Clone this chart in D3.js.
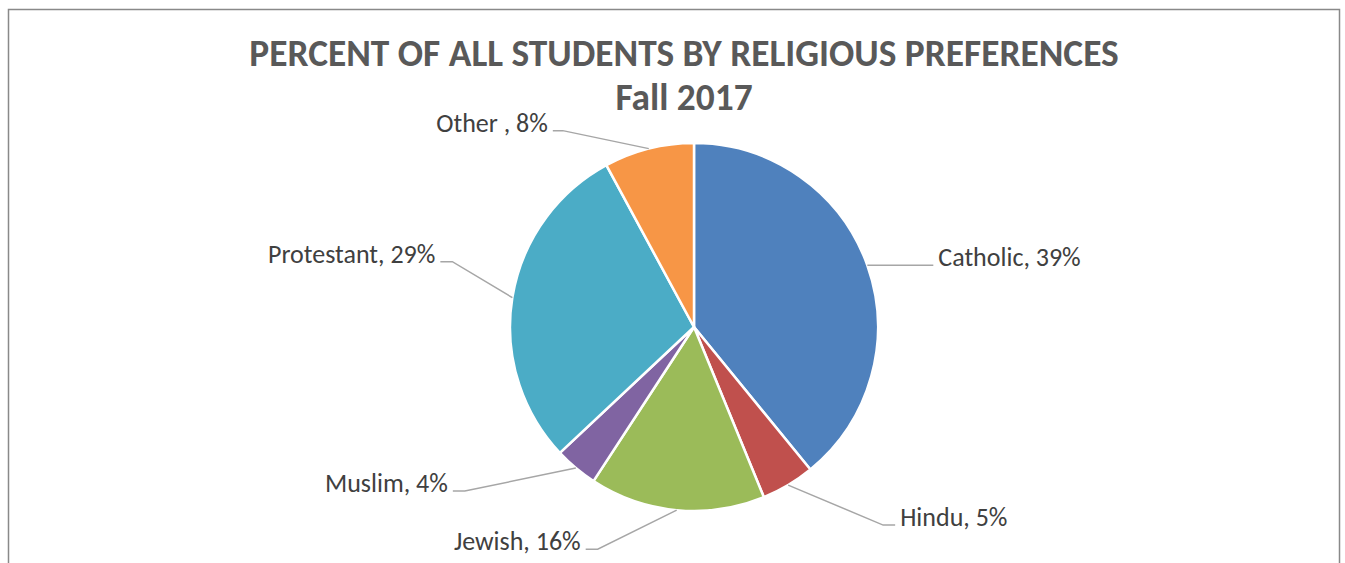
<!DOCTYPE html>
<html>
<head>
<meta charset="utf-8">
<script src="https://cdn.jsdelivr.net/npm/d3@7"></script>
<style>
  body { margin: 0; background: #fff; }
  text { font-family: Carlito, Lato, "Open Sans", sans-serif; }
</style>
</head>
<body>
<svg width="1345" height="563"></svg>
<script>
// data
const religions = ['Catholic', 'Hindu', 'Jewish', 'Muslim', 'Protestant', 'Other '];
const shares = [39.1, 4.7, 15.4, 3.8, 29.1, 7.9];
const shownPct = [39, 5, 16, 4, 29, 8];
const colors = ['#4F81BD', '#C0504D', '#9BBB59', '#8064A2', '#4BACC6', '#F79646'];

// leader line elbow offsets from the slice edge (layout only)
const elbowDx = [66, 95, -79, -111, -60, -86];
const elbowDy = [0, 40, 39, 23, -36, -18];
const tailLen = [0, 12, 12, 12, 12, 10];

var svg = d3.select("svg");

svg.append("rect")
	.attr("x", 8.5).attr("y", 9.5)
	.attr("width", 1331).attr("height", 620)
	.attr("fill", "#fff")
	.attr("stroke", "#898989")
	.attr("stroke-width", 1.5);

// title
const title = svg.append("g").attr("fill", "#595959").attr("font-weight", "bold").attr("text-anchor", "middle");
title.append("text").attr("x", 684).attr("y", 66).attr("font-size", 37.4)
	.text("PERCENT OF ALL STUDENTS BY RELIGIOUS PREFERENCES");
title.append("text").attr("x", 684).attr("y", 110).attr("font-size", 37.4)
	.text("Fall 2017");

const cx = 694, cy = 327, r = 184;
const g = svg.append("g").attr("transform", `translate(${cx},${cy})`);

const rows = religions.map((name, i) => ({name: name, value: shares[i], pct: shownPct[i], i: i}));

const pie = d3.pie().sort(null).value(d => d.value);
const arc = d3.arc().innerRadius(0).outerRadius(r);
const edge = d3.arc().innerRadius(r).outerRadius(r);
const arcs = pie(rows);

g.selectAll("path.slice")
	.data(arcs)
	.enter()
	.append("path")
	.attr("class", "slice")
	.attr("d", arc)
	.attr("fill", d => colors[d.data.i])
	.attr("stroke", "#fff")
	.attr("stroke-width", 2.5)
	.attr("stroke-linejoin", "round");

// labels with leader lines
arcs.forEach(function(d) {
	const i = d.data.i;
	const p0 = edge.centroid(d);
	const p1 = [p0[0] + elbowDx[i], p0[1] + elbowDy[i]];
	const side = elbowDx[i] >= 0 ? 1 : -1;
	const p2 = [p1[0] + side * tailLen[i], p1[1]];
	g.append("polyline")
		.attr("points", [p0, p1, p2].map(p => p.join(",")).join(" "))
		.attr("fill", "none")
		.attr("stroke", "#A6A6A6")
		.attr("stroke-width", 1.5);
	g.append("text")
		.attr("x", p2[0] + side * 5)
		.attr("y", p2[1] + 1)
		.attr("text-anchor", side > 0 ? "start" : "end")
		.attr("font-size", 26)
		.attr("fill", "#404040")
		.text(d.data.name + ", " + d.data.pct + "%");
});
</script>
</body>
</html>
